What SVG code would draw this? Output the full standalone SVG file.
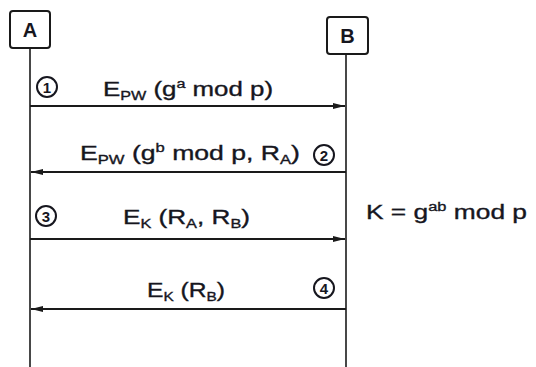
<svg xmlns="http://www.w3.org/2000/svg" width="536" height="367" viewBox="0 0 536 367">
<style>
.box{fill:#fff;stroke:#1a1a1a;stroke-width:2}
.life{stroke:#1a1a1a;stroke-width:1.6;fill:none}
.msg{stroke:#1a1a1a;stroke-width:1.8;fill:none}
.t{font-family:"Liberation Sans",Arial,sans-serif;font-size:20px;fill:#16161e;stroke:#16161e;stroke-width:0.35}
.s{font-size:12.5px}
.c{fill:none;stroke:#16161e;stroke-width:2}
.n{font-family:"Liberation Sans",Arial,sans-serif;font-size:15px;font-weight:bold;fill:#16161e;text-anchor:middle}
.lbl{font-family:"Liberation Sans",Arial,sans-serif;font-size:20px;font-weight:bold;fill:#16161e;text-anchor:middle}
</style>
<defs>
<marker id="ah" viewBox="0 0 12 6" refX="12" refY="3" markerWidth="12" markerHeight="6" markerUnits="userSpaceOnUse" orient="auto">
<path d="M0,0 L12,3 L0,6 Z" fill="#1a1a1a"/>
</marker>
</defs>
<rect width="536" height="367" fill="#fff"/>
<g id="A">
<rect class="box" x="10" y="11" width="40" height="37" rx="3"/>
<text class="lbl" x="30" y="37">A</text>
</g>
<g id="B">
<rect class="box" x="327" y="17" width="41" height="37" rx="3"/>
<text class="lbl" x="347.5" y="43">B</text>
</g>
<g id="connectors">
<line class="life" x1="30" y1="48" x2="30" y2="367"/>
<line class="life" x1="346" y1="54" x2="346" y2="367"/>
<line class="msg" x1="30" y1="106" x2="345" y2="106" marker-end="url(#ah)"/>
<line class="msg" x1="346" y1="172" x2="31" y2="172" marker-end="url(#ah)"/>
<line class="msg" x1="30" y1="239" x2="345" y2="239" marker-end="url(#ah)"/>
<line class="msg" x1="346" y1="309" x2="31" y2="309" marker-end="url(#ah)"/>
</g>
<g id="m1">
<circle class="c" cx="47" cy="87" r="10"/>
<text class="n" x="47" y="92.5">1</text>
<text class="t" x="103" y="96" textLength="170" lengthAdjust="spacingAndGlyphs">E<tspan class="s" dy="4">PW</tspan><tspan dy="-4"> (g</tspan><tspan class="s" dy="-8">a</tspan><tspan dy="8"> mod p)</tspan></text>
</g>
<g id="m2">
<circle class="c" cx="324" cy="155" r="10"/>
<text class="n" x="324" y="160.5">2</text>
<text class="t" x="80" y="160" textLength="220" lengthAdjust="spacingAndGlyphs">E<tspan class="s" dy="4">PW</tspan><tspan dy="-4"> (g</tspan><tspan class="s" dy="-8">b</tspan><tspan dy="8"> mod p, R</tspan><tspan class="s" dy="4">A</tspan><tspan dy="-4">)</tspan></text>
</g>
<g id="m3">
<circle class="c" cx="46" cy="216" r="10"/>
<text class="n" x="46" y="221.5">3</text>
<text class="t" x="123" y="224" textLength="127" lengthAdjust="spacingAndGlyphs">E<tspan class="s" dy="4">K</tspan><tspan dy="-4"> (R</tspan><tspan class="s" dy="4">A</tspan><tspan dy="-4">, R</tspan><tspan class="s" dy="4">B</tspan><tspan dy="-4">)</tspan></text>
</g>
<g id="key">
<text class="t" x="366" y="219" textLength="161" lengthAdjust="spacingAndGlyphs">K = g<tspan class="s" dy="-8">ab</tspan><tspan dy="8"> mod p</tspan></text>
</g>
<g id="m4">
<circle class="c" cx="324" cy="288" r="10"/>
<text class="n" x="324" y="293.5">4</text>
<text class="t" x="147" y="297" textLength="78" lengthAdjust="spacingAndGlyphs">E<tspan class="s" dy="4">K</tspan><tspan dy="-4"> (R</tspan><tspan class="s" dy="4">B</tspan><tspan dy="-4">)</tspan></text>
</g>
</svg>
